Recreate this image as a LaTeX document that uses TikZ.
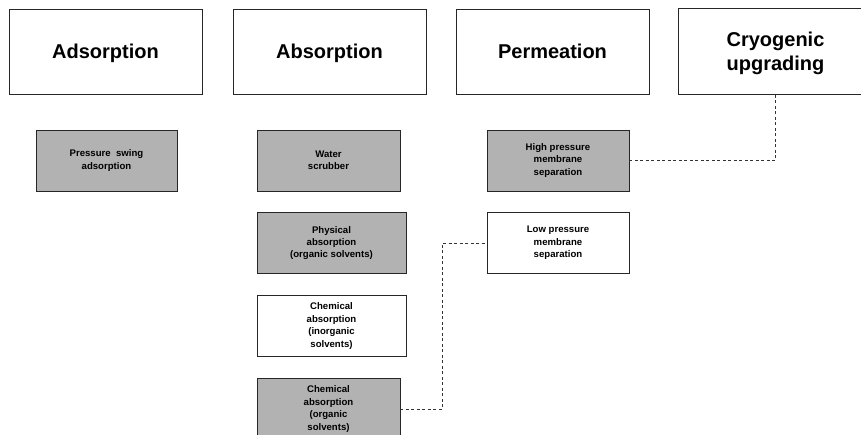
\documentclass[tikz,border=0pt]{standalone}
\usepackage{fontspec}
\setmainfont{Liberation Sans}
\tikzset{
	topbox/.style={draw=black!85, line width=0.8pt, minimum width=193pt, minimum height=85pt, align=center, text depth=0pt, font=\fontsize{20}{24}\selectfont\bfseries},
	subbox/.style={draw=black!85, line width=0.8pt, minimum height=61pt, align=center, inner sep=0pt, font=\fontsize{9.6}{12.4}\selectfont\bfseries},
	greybox/.style={subbox, fill=black!30},
	link/.style={draw=black!80, line width=0.7pt, dash pattern=on 3pt off 2.5pt}
}
\begin{document}
\begin{tikzpicture}[x=1pt,y=-1pt]
		\useasboundingbox[fill=white] (0,0) rectangle (861,434);
		
		% main categories
		\node[topbox] (ads) at (105.5,51.5) {Adsorption};
		\node[topbox] (abs) at (329.5,51.5) {Absorption};
		\node[topbox] (perm) at (552.5,51.5) {Permeation};
		\node[topbox, draw=none] (cryo) at (775.5,51.5) {Cryogenic\\upgrading};
		% cut off by the page edge
		\draw[black!85, line width=0.8pt] (cryo.north east) -- (cryo.north west) -- (cryo.south west) -- (cryo.south east);
		
		% techniques
		\node[greybox, minimum width=141pt] (psa) at (106.5,160.5) {Pressure \ swing\\adsorption};
		\node[greybox, minimum width=143pt] (water) at (328.5,160.5) {Water\\scrubber};
		\node[greybox, minimum width=149pt] (phys) at (331.5,243) {Physical\\absorption\\(organic solvents)};
		\node[subbox, minimum width=149pt] (cheminorg) at (331.5,326) {Chemical\\absorption\\(inorganic\\solvents)};
		\node[greybox, minimum width=143pt, minimum height=62pt] (chemorg) at (328.5,409) {Chemical\\absorption\\(organic\\solvents)};
		\node[greybox, minimum width=142pt] (highp) at (558,160.5) {High pressure\\membrane\\separation};
		\node[subbox, minimum width=142pt] (lowp) at (558,243) {Low pressure\\membrane\\separation};
		
		% links
		\draw[link] (highp.east) -| (cryo.south);
		\draw[link] (chemorg.east) -- ++(42,0) |- (lowp.west);
\end{tikzpicture}
\end{document}
